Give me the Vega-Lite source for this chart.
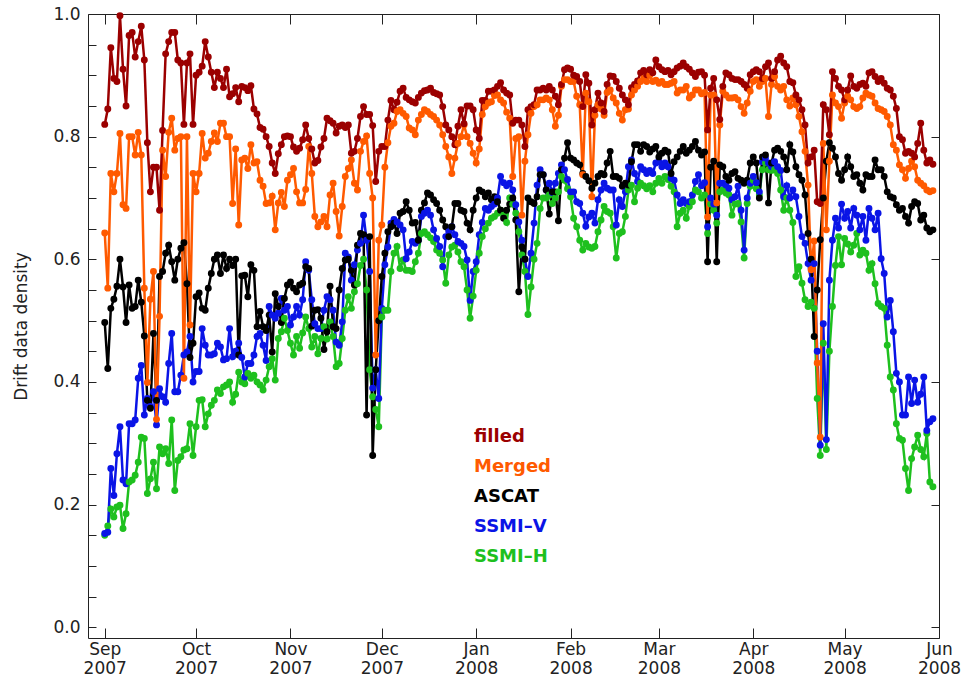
{
"$schema":"https://vega.github.io/schema/vega-lite/v6.json",
"width":851,"height":624,
"autosize":{"type":"none"},
"padding":{"left":88,"top":14,"right":31,"bottom":49},
"background":"white",
"config":{"font":"DejaVu Sans","view":{"stroke":null}},
"layer":[
{
"data":{"values":[
{"d":"2007-09-01","f":0.82,"m":0.643,"a":0.497,"v":0.153,"h":0.15},
{"d":"2007-09-02","f":0.845,"m":0.553,"a":0.422,"v":0.155,"h":0.165},
{"d":"2007-09-03","f":0.945,"m":0.74,"a":0.52,"v":0.259,"h":0.193},
{"d":"2007-09-04","f":0.895,"m":0.71,"a":0.535,"v":0.215,"h":0.18},
{"d":"2007-09-05","f":0.89,"m":0.74,"a":0.556,"v":0.283,"h":0.196},
{"d":"2007-09-06","f":0.997,"m":0.805,"a":0.6,"v":0.327,"h":0.199},
{"d":"2007-09-07","f":0.91,"m":0.689,"a":0.555,"v":0.24,"h":0.161},
{"d":"2007-09-08","f":0.85,"m":0.683,"a":0.497,"v":0.234,"h":0.185},
{"d":"2007-09-09","f":0.965,"m":0.8,"a":0.558,"v":0.332,"h":0.237},
{"d":"2007-09-10","f":0.97,"m":0.8,"a":0.52,"v":0.332,"h":0.24},
{"d":"2007-09-11","f":0.93,"m":0.77,"a":0.523,"v":0.338,"h":0.248},
{"d":"2007-09-12","f":0.955,"m":0.807,"a":0.566,"v":0.406,"h":0.269},
{"d":"2007-09-13","f":0.98,"m":0.77,"a":0.53,"v":0.427,"h":0.31},
{"d":"2007-09-14","f":0.925,"m":0.553,"a":0.475,"v":0.346,"h":0.308},
{"d":"2007-09-15","f":0.79,"m":0.399,"a":0.37,"v":0.373,"h":0.218},
{"d":"2007-09-16","f":0.71,"m":0.535,"a":0.357,"v":0.36,"h":0.242},
{"d":"2007-09-17","f":0.75,"m":0.58,"a":0.479,"v":0.384,"h":0.269},
{"d":"2007-09-18","f":0.75,"m":0.339,"a":0.37,"v":0.33,"h":0.226},
{"d":"2007-09-19","f":0.68,"m":0.507,"a":0.572,"v":0.389,"h":0.294},
{"d":"2007-09-20","f":0.81,"m":0.778,"a":0.58,"v":0.376,"h":0.283},
{"d":"2007-09-21","f":0.935,"m":0.735,"a":0.61,"v":0.367,"h":0.291},
{"d":"2007-09-22","f":0.955,"m":0.807,"a":0.623,"v":0.43,"h":0.267},
{"d":"2007-09-23","f":0.97,"m":0.83,"a":0.596,"v":0.479,"h":0.338},
{"d":"2007-09-24","f":0.97,"m":0.778,"a":0.566,"v":0.384,"h":0.223},
{"d":"2007-09-25","f":0.925,"m":0.797,"a":0.6,"v":0.384,"h":0.272},
{"d":"2007-09-26","f":0.92,"m":0.8,"a":0.618,"v":0.411,"h":0.278},
{"d":"2007-09-27","f":0.82,"m":0.406,"a":0.627,"v":0.444,"h":0.289},
{"d":"2007-09-28","f":0.92,"m":0.8,"a":0.56,"v":0.449,"h":0.291},
{"d":"2007-09-29","f":0.935,"m":0.493,"a":0.44,"v":0.474,"h":0.332},
{"d":"2007-09-30","f":0.82,"m":0.74,"a":0.463,"v":0.4,"h":0.28},
{"d":"2007-10-01","f":0.9,"m":0.71,"a":0.539,"v":0.417,"h":0.327},
{"d":"2007-10-02","f":0.905,"m":0.74,"a":0.545,"v":0.417,"h":0.37},
{"d":"2007-10-03","f":0.915,"m":0.805,"a":0.52,"v":0.487,"h":0.371},
{"d":"2007-10-04","f":0.955,"m":0.765,"a":0.517,"v":0.46,"h":0.327},
{"d":"2007-10-05","f":0.93,"m":0.773,"a":0.553,"v":0.444,"h":0.348},
{"d":"2007-10-06","f":0.905,"m":0.792,"a":0.577,"v":0.444,"h":0.362},
{"d":"2007-10-07","f":0.88,"m":0.806,"a":0.6,"v":0.446,"h":0.37},
{"d":"2007-10-08","f":0.905,"m":0.792,"a":0.607,"v":0.463,"h":0.387},
{"d":"2007-10-09","f":0.895,"m":0.822,"a":0.577,"v":0.457,"h":0.381},
{"d":"2007-10-10","f":0.88,"m":0.822,"a":0.607,"v":0.436,"h":0.392},
{"d":"2007-10-11","f":0.91,"m":0.8,"a":0.585,"v":0.438,"h":0.395},
{"d":"2007-10-12","f":0.865,"m":0.8,"a":0.6,"v":0.487,"h":0.4},
{"d":"2007-10-13","f":0.87,"m":0.691,"a":0.59,"v":0.441,"h":0.367},
{"d":"2007-10-14","f":0.88,"m":0.78,"a":0.6,"v":0.45,"h":0.38},
{"d":"2007-10-15","f":0.857,"m":0.656,"a":0.444,"v":0.463,"h":0.416},
{"d":"2007-10-16","f":0.882,"m":0.762,"a":0.573,"v":0.44,"h":0.4},
{"d":"2007-10-17","f":0.88,"m":0.765,"a":0.574,"v":0.408,"h":0.397},
{"d":"2007-10-18","f":0.875,"m":0.748,"a":0.539,"v":0.43,"h":0.414},
{"d":"2007-10-19","f":0.883,"m":0.787,"a":0.591,"v":0.43,"h":0.406},
{"d":"2007-10-20","f":0.845,"m":0.757,"a":0.582,"v":0.444,"h":0.411},
{"d":"2007-10-21","f":0.837,"m":0.759,"a":0.49,"v":0.474,"h":0.4},
{"d":"2007-10-22","f":0.815,"m":0.729,"a":0.515,"v":0.479,"h":0.395},
{"d":"2007-10-23","f":0.812,"m":0.719,"a":0.49,"v":0.46,"h":0.387},
{"d":"2007-10-24","f":0.8,"m":0.691,"a":0.484,"v":0.435,"h":0.403},
{"d":"2007-10-25","f":0.784,"m":0.692,"a":0.509,"v":0.523,"h":0.425},
{"d":"2007-10-26","f":0.757,"m":0.703,"a":0.449,"v":0.509,"h":0.438},
{"d":"2007-10-27","f":0.74,"m":0.648,"a":0.544,"v":0.504,"h":0.403},
{"d":"2007-10-28","f":0.772,"m":0.692,"a":0.523,"v":0.512,"h":0.471},
{"d":"2007-10-29","f":0.787,"m":0.709,"a":0.497,"v":0.536,"h":0.482},
{"d":"2007-10-30","f":0.8,"m":0.686,"a":0.536,"v":0.517,"h":0.504},
{"d":"2007-10-31","f":0.801,"m":0.729,"a":0.558,"v":0.523,"h":0.484},
{"d":"2007-11-01","f":0.8,"m":0.738,"a":0.563,"v":0.493,"h":0.463},
{"d":"2007-11-02","f":0.783,"m":0.748,"a":0.553,"v":0.506,"h":0.444},
{"d":"2007-11-03","f":0.776,"m":0.71,"a":0.547,"v":0.523,"h":0.474},
{"d":"2007-11-04","f":0.781,"m":0.692,"a":0.558,"v":0.509,"h":0.455},
{"d":"2007-11-05","f":0.795,"m":0.692,"a":0.561,"v":0.534,"h":0.48},
{"d":"2007-11-06","f":0.819,"m":0.714,"a":0.588,"v":0.596,"h":0.506},
{"d":"2007-11-07","f":0.797,"m":0.784,"a":0.585,"v":0.582,"h":0.487},
{"d":"2007-11-08","f":0.78,"m":0.74,"a":0.491,"v":0.534,"h":0.457},
{"d":"2007-11-09","f":0.757,"m":0.67,"a":0.517,"v":0.495,"h":0.474},
{"d":"2007-11-10","f":0.761,"m":0.653,"a":0.518,"v":0.487,"h":0.446},
{"d":"2007-11-11","f":0.783,"m":0.661,"a":0.504,"v":0.487,"h":0.471},
{"d":"2007-11-12","f":0.797,"m":0.67,"a":0.453,"v":0.517,"h":0.49},
{"d":"2007-11-13","f":0.83,"m":0.653,"a":0.482,"v":0.539,"h":0.47},
{"d":"2007-11-14","f":0.826,"m":0.705,"a":0.556,"v":0.534,"h":0.498},
{"d":"2007-11-15","f":0.822,"m":0.724,"a":0.49,"v":0.517,"h":0.474},
{"d":"2007-11-16","f":0.806,"m":0.678,"a":0.487,"v":0.465,"h":0.425},
{"d":"2007-11-17","f":0.817,"m":0.638,"a":0.55,"v":0.46,"h":0.43},
{"d":"2007-11-18","f":0.819,"m":0.686,"a":0.585,"v":0.498,"h":0.471},
{"d":"2007-11-19","f":0.815,"m":0.735,"a":0.599,"v":0.61,"h":0.517},
{"d":"2007-11-20","f":0.819,"m":0.748,"a":0.6,"v":0.604,"h":0.539},
{"d":"2007-11-21","f":0.773,"m":0.762,"a":0.582,"v":0.566,"h":0.52},
{"d":"2007-11-22","f":0.776,"m":0.724,"a":0.558,"v":0.591,"h":0.547},
{"d":"2007-11-23","f":0.797,"m":0.713,"a":0.623,"v":0.615,"h":0.56},
{"d":"2007-11-24","f":0.833,"m":0.776,"a":0.642,"v":0.626,"h":0.59},
{"d":"2007-11-25","f":0.849,"m":0.792,"a":0.64,"v":0.672,"h":0.6},
{"d":"2007-11-26","f":0.836,"m":0.801,"a":0.346,"v":0.631,"h":0.55},
{"d":"2007-11-27","f":0.836,"m":0.74,"a":0.637,"v":0.58,"h":0.42},
{"d":"2007-11-28","f":0.818,"m":0.7,"a":0.28,"v":0.39,"h":0.376},
{"d":"2007-11-29","f":0.727,"m":0.444,"a":0.42,"v":0.42,"h":0.355},
{"d":"2007-11-30","f":0.776,"m":0.631,"a":0.5,"v":0.373,"h":0.327},
{"d":"2007-12-01","f":0.784,"m":0.656,"a":0.572,"v":0.52,"h":0.506},
{"d":"2007-12-02","f":0.784,"m":0.75,"a":0.61,"v":0.591,"h":0.517},
{"d":"2007-12-03","f":0.827,"m":0.79,"a":0.645,"v":0.62,"h":0.517},
{"d":"2007-12-04","f":0.859,"m":0.817,"a":0.653,"v":0.659,"h":0.58},
{"d":"2007-12-05","f":0.844,"m":0.822,"a":0.659,"v":0.665,"h":0.61},
{"d":"2007-12-06","f":0.856,"m":0.841,"a":0.642,"v":0.661,"h":0.621},
{"d":"2007-12-07","f":0.874,"m":0.844,"a":0.675,"v":0.656,"h":0.585},
{"d":"2007-12-08","f":0.879,"m":0.838,"a":0.678,"v":0.648,"h":0.599},
{"d":"2007-12-09","f":0.864,"m":0.833,"a":0.694,"v":0.601,"h":0.582},
{"d":"2007-12-10","f":0.86,"m":0.814,"a":0.68,"v":0.612,"h":0.582},
{"d":"2007-12-11","f":0.857,"m":0.811,"a":0.659,"v":0.629,"h":0.58},
{"d":"2007-12-12","f":0.855,"m":0.803,"a":0.66,"v":0.626,"h":0.596},
{"d":"2007-12-13","f":0.864,"m":0.827,"a":0.631,"v":0.631,"h":0.61},
{"d":"2007-12-14","f":0.871,"m":0.836,"a":0.68,"v":0.67,"h":0.642},
{"d":"2007-12-15","f":0.875,"m":0.844,"a":0.692,"v":0.675,"h":0.645},
{"d":"2007-12-16","f":0.876,"m":0.841,"a":0.708,"v":0.68,"h":0.64},
{"d":"2007-12-17","f":0.879,"m":0.836,"a":0.705,"v":0.672,"h":0.635},
{"d":"2007-12-18","f":0.872,"m":0.833,"a":0.697,"v":0.648,"h":0.629},
{"d":"2007-12-19","f":0.87,"m":0.827,"a":0.691,"v":0.634,"h":0.615},
{"d":"2007-12-20","f":0.868,"m":0.819,"a":0.68,"v":0.621,"h":0.61},
{"d":"2007-12-21","f":0.849,"m":0.803,"a":0.664,"v":0.588,"h":0.599},
{"d":"2007-12-22","f":0.819,"m":0.784,"a":0.653,"v":0.637,"h":0.561},
{"d":"2007-12-23","f":0.811,"m":0.767,"a":0.637,"v":0.645,"h":0.607},
{"d":"2007-12-24","f":0.8,"m":0.74,"a":0.653,"v":0.653,"h":0.62},
{"d":"2007-12-25","f":0.787,"m":0.765,"a":0.691,"v":0.64,"h":0.623},
{"d":"2007-12-26","f":0.817,"m":0.789,"a":0.691,"v":0.629,"h":0.612},
{"d":"2007-12-27","f":0.844,"m":0.8,"a":0.68,"v":0.626,"h":0.596},
{"d":"2007-12-28","f":0.821,"m":0.819,"a":0.678,"v":0.621,"h":0.588},
{"d":"2007-12-29","f":0.85,"m":0.8,"a":0.659,"v":0.599,"h":0.55},
{"d":"2007-12-30","f":0.85,"m":0.789,"a":0.648,"v":0.533,"h":0.504},
{"d":"2007-12-31","f":0.844,"m":0.773,"a":0.68,"v":0.58,"h":0.54},
{"d":"2008-01-01","f":0.811,"m":0.757,"a":0.7,"v":0.596,"h":0.582},
{"d":"2008-01-02","f":0.797,"m":0.78,"a":0.713,"v":0.64,"h":0.61},
{"d":"2008-01-03","f":0.859,"m":0.836,"a":0.71,"v":0.66,"h":0.637},
{"d":"2008-01-04","f":0.859,"m":0.849,"a":0.702,"v":0.683,"h":0.65},
{"d":"2008-01-05","f":0.874,"m":0.855,"a":0.708,"v":0.68,"h":0.659},
{"d":"2008-01-06","f":0.874,"m":0.857,"a":0.697,"v":0.686,"h":0.667},
{"d":"2008-01-07","f":0.876,"m":0.867,"a":0.702,"v":0.69,"h":0.67},
{"d":"2008-01-08","f":0.882,"m":0.868,"a":0.694,"v":0.7,"h":0.675},
{"d":"2008-01-09","f":0.888,"m":0.86,"a":0.68,"v":0.735,"h":0.68},
{"d":"2008-01-10","f":0.876,"m":0.855,"a":0.667,"v":0.725,"h":0.672},
{"d":"2008-01-11","f":0.871,"m":0.84,"a":0.68,"v":0.72,"h":0.66},
{"d":"2008-01-12","f":0.868,"m":0.83,"a":0.69,"v":0.724,"h":0.7},
{"d":"2008-01-13","f":0.822,"m":0.735,"a":0.7,"v":0.713,"h":0.69},
{"d":"2008-01-14","f":0.827,"m":0.797,"a":0.664,"v":0.689,"h":0.675},
{"d":"2008-01-15","f":0.827,"m":0.8,"a":0.547,"v":0.661,"h":0.645},
{"d":"2008-01-16","f":0.819,"m":0.672,"a":0.62,"v":0.631,"h":0.607},
{"d":"2008-01-17","f":0.784,"m":0.76,"a":0.6,"v":0.6,"h":0.58},
{"d":"2008-01-18","f":0.844,"m":0.803,"a":0.7,"v":0.572,"h":0.51},
{"d":"2008-01-19","f":0.849,"m":0.838,"a":0.694,"v":0.61,"h":0.555},
{"d":"2008-01-20","f":0.852,"m":0.849,"a":0.691,"v":0.659,"h":0.6},
{"d":"2008-01-21","f":0.876,"m":0.852,"a":0.702,"v":0.721,"h":0.626},
{"d":"2008-01-22","f":0.876,"m":0.86,"a":0.738,"v":0.746,"h":0.683},
{"d":"2008-01-23","f":0.879,"m":0.86,"a":0.738,"v":0.738,"h":0.7},
{"d":"2008-01-24","f":0.876,"m":0.863,"a":0.713,"v":0.713,"h":0.7},
{"d":"2008-01-25","f":0.882,"m":0.86,"a":0.674,"v":0.724,"h":0.705},
{"d":"2008-01-26","f":0.876,"m":0.844,"a":0.71,"v":0.709,"h":0.691},
{"d":"2008-01-27","f":0.866,"m":0.817,"a":0.71,"v":0.724,"h":0.7},
{"d":"2008-01-28","f":0.852,"m":0.835,"a":0.663,"v":0.74,"h":0.71},
{"d":"2008-01-29","f":0.885,"m":0.882,"a":0.746,"v":0.754,"h":0.735},
{"d":"2008-01-30","f":0.909,"m":0.893,"a":0.765,"v":0.746,"h":0.729},
{"d":"2008-01-31","f":0.912,"m":0.893,"a":0.79,"v":0.73,"h":0.715},
{"d":"2008-02-01","f":0.91,"m":0.89,"a":0.765,"v":0.71,"h":0.702},
{"d":"2008-02-02","f":0.9,"m":0.89,"a":0.762,"v":0.71,"h":0.667},
{"d":"2008-02-03","f":0.898,"m":0.866,"a":0.757,"v":0.694,"h":0.653},
{"d":"2008-02-04","f":0.89,"m":0.852,"a":0.754,"v":0.691,"h":0.631},
{"d":"2008-02-05","f":0.849,"m":0.738,"a":0.74,"v":0.675,"h":0.615},
{"d":"2008-02-06","f":0.901,"m":0.871,"a":0.735,"v":0.654,"h":0.626},
{"d":"2008-02-07","f":0.887,"m":0.857,"a":0.728,"v":0.669,"h":0.62},
{"d":"2008-02-08","f":0.819,"m":0.702,"a":0.716,"v":0.675,"h":0.618},
{"d":"2008-02-09","f":0.844,"m":0.835,"a":0.724,"v":0.659,"h":0.621},
{"d":"2008-02-10","f":0.871,"m":0.852,"a":0.735,"v":0.697,"h":0.645},
{"d":"2008-02-11","f":0.855,"m":0.845,"a":0.74,"v":0.713,"h":0.664},
{"d":"2008-02-12","f":0.841,"m":0.835,"a":0.738,"v":0.724,"h":0.686},
{"d":"2008-02-13","f":0.885,"m":0.872,"a":0.757,"v":0.716,"h":0.678},
{"d":"2008-02-14","f":0.899,"m":0.876,"a":0.776,"v":0.713,"h":0.675},
{"d":"2008-02-15","f":0.898,"m":0.863,"a":0.735,"v":0.713,"h":0.653},
{"d":"2008-02-16","f":0.89,"m":0.855,"a":0.735,"v":0.656,"h":0.602},
{"d":"2008-02-17","f":0.879,"m":0.838,"a":0.732,"v":0.697,"h":0.642},
{"d":"2008-02-18","f":0.868,"m":0.827,"a":0.719,"v":0.686,"h":0.645},
{"d":"2008-02-19","f":0.86,"m":0.844,"a":0.724,"v":0.71,"h":0.67},
{"d":"2008-02-20","f":0.852,"m":0.845,"a":0.721,"v":0.751,"h":0.713},
{"d":"2008-02-21","f":0.88,"m":0.868,"a":0.759,"v":0.762,"h":0.721},
{"d":"2008-02-22","f":0.885,"m":0.876,"a":0.787,"v":0.74,"h":0.694},
{"d":"2008-02-23","f":0.891,"m":0.882,"a":0.787,"v":0.727,"h":0.716},
{"d":"2008-02-24","f":0.904,"m":0.89,"a":0.776,"v":0.751,"h":0.724},
{"d":"2008-02-25","f":0.908,"m":0.895,"a":0.787,"v":0.746,"h":0.72},
{"d":"2008-02-26","f":0.901,"m":0.89,"a":0.784,"v":0.74,"h":0.715},
{"d":"2008-02-27","f":0.909,"m":0.9,"a":0.775,"v":0.745,"h":0.72},
{"d":"2008-02-28","f":0.904,"m":0.89,"a":0.78,"v":0.74,"h":0.71},
{"d":"2008-02-29","f":0.925,"m":0.892,"a":0.784,"v":0.757,"h":0.724},
{"d":"2008-03-01","f":0.914,"m":0.887,"a":0.767,"v":0.759,"h":0.732},
{"d":"2008-03-02","f":0.909,"m":0.89,"a":0.773,"v":0.751,"h":0.724},
{"d":"2008-03-03","f":0.906,"m":0.885,"a":0.778,"v":0.757,"h":0.735},
{"d":"2008-03-04","f":0.908,"m":0.885,"a":0.775,"v":0.751,"h":0.73},
{"d":"2008-03-05","f":0.901,"m":0.887,"a":0.74,"v":0.732,"h":0.719},
{"d":"2008-03-06","f":0.906,"m":0.89,"a":0.759,"v":0.729,"h":0.71},
{"d":"2008-03-07","f":0.912,"m":0.871,"a":0.767,"v":0.705,"h":0.653},
{"d":"2008-03-08","f":0.915,"m":0.876,"a":0.776,"v":0.691,"h":0.675},
{"d":"2008-03-09","f":0.92,"m":0.876,"a":0.784,"v":0.697,"h":0.68},
{"d":"2008-03-10","f":0.914,"m":0.882,"a":0.773,"v":0.691,"h":0.667},
{"d":"2008-03-11","f":0.91,"m":0.863,"a":0.778,"v":0.694,"h":0.686},
{"d":"2008-03-12","f":0.904,"m":0.868,"a":0.784,"v":0.705,"h":0.694},
{"d":"2008-03-13","f":0.898,"m":0.876,"a":0.792,"v":0.727,"h":0.713},
{"d":"2008-03-14","f":0.905,"m":0.876,"a":0.778,"v":0.738,"h":0.71},
{"d":"2008-03-15","f":0.906,"m":0.87,"a":0.77,"v":0.72,"h":0.7},
{"d":"2008-03-16","f":0.9,"m":0.872,"a":0.775,"v":0.725,"h":0.705},
{"d":"2008-03-17","f":0.811,"m":0.669,"a":0.596,"v":0.653,"h":0.642},
{"d":"2008-03-18","f":0.879,"m":0.868,"a":0.75,"v":0.7,"h":0.69},
{"d":"2008-03-19","f":0.895,"m":0.868,"a":0.76,"v":0.69,"h":0.68},
{"d":"2008-03-20","f":0.86,"m":0.692,"a":0.596,"v":0.672,"h":0.659},
{"d":"2008-03-21","f":0.828,"m":0.819,"a":0.754,"v":0.724,"h":0.71},
{"d":"2008-03-22","f":0.882,"m":0.874,"a":0.751,"v":0.724,"h":0.713},
{"d":"2008-03-23","f":0.904,"m":0.868,"a":0.735,"v":0.721,"h":0.708},
{"d":"2008-03-24","f":0.901,"m":0.863,"a":0.729,"v":0.716,"h":0.705},
{"d":"2008-03-25","f":0.895,"m":0.863,"a":0.74,"v":0.697,"h":0.672},
{"d":"2008-03-26","f":0.893,"m":0.864,"a":0.743,"v":0.702,"h":0.69},
{"d":"2008-03-27","f":0.893,"m":0.86,"a":0.732,"v":0.719,"h":0.691},
{"d":"2008-03-28","f":0.89,"m":0.849,"a":0.729,"v":0.68,"h":0.661},
{"d":"2008-03-29","f":0.885,"m":0.838,"a":0.724,"v":0.615,"h":0.602},
{"d":"2008-03-30","f":0.879,"m":0.855,"a":0.729,"v":0.7,"h":0.691},
{"d":"2008-03-31","f":0.901,"m":0.874,"a":0.757,"v":0.724,"h":0.719},
{"d":"2008-04-01","f":0.906,"m":0.89,"a":0.767,"v":0.735,"h":0.729},
{"d":"2008-04-02","f":0.909,"m":0.893,"a":0.757,"v":0.725,"h":0.715},
{"d":"2008-04-03","f":0.906,"m":0.882,"a":0.7,"v":0.71,"h":0.705},
{"d":"2008-04-04","f":0.895,"m":0.89,"a":0.767,"v":0.759,"h":0.746},
{"d":"2008-04-05","f":0.914,"m":0.895,"a":0.77,"v":0.765,"h":0.757},
{"d":"2008-04-06","f":0.92,"m":0.833,"a":0.692,"v":0.757,"h":0.746},
{"d":"2008-04-07","f":0.895,"m":0.885,"a":0.757,"v":0.751,"h":0.745},
{"d":"2008-04-08","f":0.906,"m":0.898,"a":0.778,"v":0.759,"h":0.746},
{"d":"2008-04-09","f":0.925,"m":0.882,"a":0.781,"v":0.751,"h":0.74},
{"d":"2008-04-10","f":0.931,"m":0.876,"a":0.776,"v":0.745,"h":0.713},
{"d":"2008-04-11","f":0.92,"m":0.882,"a":0.767,"v":0.702,"h":0.68},
{"d":"2008-04-12","f":0.914,"m":0.86,"a":0.746,"v":0.72,"h":0.7},
{"d":"2008-04-13","f":0.89,"m":0.85,"a":0.787,"v":0.7,"h":0.68},
{"d":"2008-04-14","f":0.888,"m":0.863,"a":0.775,"v":0.713,"h":0.66},
{"d":"2008-04-15","f":0.868,"m":0.852,"a":0.751,"v":0.702,"h":0.572},
{"d":"2008-04-16","f":0.86,"m":0.833,"a":0.738,"v":0.67,"h":0.588},
{"d":"2008-04-17","f":0.844,"m":0.808,"a":0.729,"v":0.637,"h":0.561},
{"d":"2008-04-18","f":0.819,"m":0.776,"a":0.705,"v":0.626,"h":0.534},
{"d":"2008-04-19","f":0.757,"m":0.721,"a":0.642,"v":0.593,"h":0.523},
{"d":"2008-04-20","f":0.767,"m":0.583,"a":0.6,"v":0.566,"h":0.53},
{"d":"2008-04-21","f":0.778,"m":0.63,"a":0.474,"v":0.593,"h":0.52},
{"d":"2008-04-22","f":0.694,"m":0.431,"a":0.55,"v":0.45,"h":0.373},
{"d":"2008-04-23","f":0.691,"m":0.31,"a":0.632,"v":0.297,"h":0.28},
{"d":"2008-04-24","f":0.852,"m":0.789,"a":0.7,"v":0.495,"h":0.463},
{"d":"2008-04-25","f":0.844,"m":0.648,"a":0.76,"v":0.306,"h":0.29},
{"d":"2008-04-26","f":0.803,"m":0.76,"a":0.79,"v":0.566,"h":0.45},
{"d":"2008-04-27","f":0.906,"m":0.868,"a":0.781,"v":0.631,"h":0.523},
{"d":"2008-04-28","f":0.895,"m":0.855,"a":0.767,"v":0.667,"h":0.59},
{"d":"2008-04-29","f":0.882,"m":0.849,"a":0.74,"v":0.651,"h":0.637},
{"d":"2008-04-30","f":0.876,"m":0.83,"a":0.729,"v":0.69,"h":0.591},
{"d":"2008-05-01","f":0.86,"m":0.855,"a":0.746,"v":0.667,"h":0.634},
{"d":"2008-05-02","f":0.876,"m":0.866,"a":0.767,"v":0.678,"h":0.625},
{"d":"2008-05-03","f":0.899,"m":0.86,"a":0.751,"v":0.651,"h":0.612},
{"d":"2008-05-04","f":0.882,"m":0.849,"a":0.735,"v":0.683,"h":0.623},
{"d":"2008-05-05","f":0.879,"m":0.846,"a":0.738,"v":0.672,"h":0.642},
{"d":"2008-05-06","f":0.885,"m":0.849,"a":0.724,"v":0.648,"h":0.607},
{"d":"2008-05-07","f":0.887,"m":0.863,"a":0.713,"v":0.67,"h":0.615},
{"d":"2008-05-08","f":0.882,"m":0.871,"a":0.738,"v":0.631,"h":0.61},
{"d":"2008-05-09","f":0.904,"m":0.868,"a":0.735,"v":0.683,"h":0.582},
{"d":"2008-05-10","f":0.906,"m":0.866,"a":0.735,"v":0.667,"h":0.593},
{"d":"2008-05-11","f":0.898,"m":0.855,"a":0.762,"v":0.648,"h":0.56},
{"d":"2008-05-12","f":0.89,"m":0.846,"a":0.746,"v":0.675,"h":0.528},
{"d":"2008-05-13","f":0.895,"m":0.844,"a":0.746,"v":0.601,"h":0.523},
{"d":"2008-05-14","f":0.887,"m":0.841,"a":0.735,"v":0.577,"h":0.52},
{"d":"2008-05-15","f":0.879,"m":0.833,"a":0.71,"v":0.506,"h":0.46},
{"d":"2008-05-16","f":0.876,"m":0.819,"a":0.702,"v":0.533,"h":0.408},
{"d":"2008-05-17","f":0.866,"m":0.787,"a":0.7,"v":0.482,"h":0.387},
{"d":"2008-05-18","f":0.846,"m":0.778,"a":0.689,"v":0.414,"h":0.332},
{"d":"2008-05-19","f":0.8,"m":0.754,"a":0.68,"v":0.4,"h":0.308},
{"d":"2008-05-20","f":0.795,"m":0.746,"a":0.683,"v":0.346,"h":0.305},
{"d":"2008-05-21","f":0.773,"m":0.732,"a":0.67,"v":0.346,"h":0.259},
{"d":"2008-05-22","f":0.776,"m":0.748,"a":0.659,"v":0.408,"h":0.223},
{"d":"2008-05-23","f":0.773,"m":0.76,"a":0.686,"v":0.365,"h":0.275},
{"d":"2008-05-24","f":0.767,"m":0.751,"a":0.694,"v":0.403,"h":0.294},
{"d":"2008-05-25","f":0.789,"m":0.729,"a":0.691,"v":0.367,"h":0.313},
{"d":"2008-05-26","f":0.822,"m":0.724,"a":0.664,"v":0.38,"h":0.29},
{"d":"2008-05-27","f":0.778,"m":0.72,"a":0.672,"v":0.408,"h":0.278},
{"d":"2008-05-28","f":0.757,"m":0.713,"a":0.651,"v":0.321,"h":0.316},
{"d":"2008-05-29","f":0.762,"m":0.71,"a":0.645,"v":0.335,"h":0.237},
{"d":"2008-05-30","f":0.755,"m":0.712,"a":0.648,"v":0.34,"h":0.229}
]},
"transform":[{"fold":["h","v","a","m","f"],"as":["s","val"]}],
"mark":{"type":"line","strokeWidth":2.5,"point":{"filled":true,"size":48}},
"encoding":{
"x":{"field":"d","type":"temporal",
"scale":{"type":"utc","domain":[{"year":2007,"month":8,"date":26,"hours":12,"utc":true},{"year":2008,"month":6,"date":1,"utc":true}]},
"axis":{"orient":"bottom","title":null,"grid":false,
"values":[{"year":2007,"month":9,"date":1,"utc":true},{"year":2007,"month":10,"date":1,"utc":true},{"year":2007,"month":11,"date":1,"utc":true},{"year":2007,"month":12,"date":1,"utc":true},{"year":2008,"month":1,"date":1,"utc":true},{"year":2008,"month":2,"date":1,"utc":true},{"year":2008,"month":3,"date":1,"utc":true},{"year":2008,"month":4,"date":1,"utc":true},{"year":2008,"month":5,"date":1,"utc":true},{"year":2008,"month":6,"date":1,"utc":true}],
"labelExpr":"[utcFormat(datum.value,'%b'), utcFormat(datum.value,'%Y')]",
"tickSize":-10,"labelPadding":13,"labelFontSize":17,"labelColor":"#222222","labelLineHeight":19,"labelBaseline":"top","labelFlush":false,"labelOverlap":false,
"domainColor":"#222222","tickColor":"#222222"}},
"y":{"field":"val","type":"quantitative",
"scale":{"domain":[-0.0175,1],"nice":false,"zero":false},
"axis":{"orient":"left","grid":false,
"values":[0,0.05,0.1,0.15,0.2,0.25,0.3,0.35,0.4,0.45,0.5,0.55,0.6,0.65,0.7,0.75,0.8,0.85,0.9,0.95,1],
"labelExpr":"round(datum.value*20)%4==0 ? format(datum.value,'.1f') : ''",
"tickSize":-8,"labelPadding":16,"labelFontSize":17,"labelColor":"#222222","labelOverlap":false,"labelFlush":false,
"title":"Drift data density","titleFontSize":17,"titleFontWeight":"normal","titleColor":"#222222","titlePadding":22,
"domainColor":"#222222","tickColor":"#222222"}},
"color":{"field":"s","type":"nominal",
"scale":{"domain":["f","m","a","v","h"],"range":["#9b0000","#ff5a00","#000000","#0a14e6","#1ec01e"]},
"legend":{"orient":"none","legendX":368,"legendY":414,"title":null,"padding":0,
"labelExpr":"{'f':'filled','m':'Merged','a':'ASCAT','v':'SSMI\u2013V','h':'SSMI\u2013H'}[datum.value]",
"labelFont":"DejaVu Sans","labelFontSize":18,"labelFontWeight":"bold",
"labelColor":{"expr":"scale('color', datum.value)"},
"symbolSize":0,"symbolOpacity":0,"symbolStrokeWidth":0,"labelOffset":0,"rowPadding":12}}
}
},
{
"data":{"values":[{}]},
"mark":{"type":"point","opacity":0},
"encoding":{
"x":{"datum":{"year":2008,"month":1,"date":1,"utc":true},"type":"temporal",
"axis":{"orient":"top","title":null,"grid":false,"labels":false,
"values":[{"year":2007,"month":9,"date":1,"utc":true},{"year":2007,"month":10,"date":1,"utc":true},{"year":2007,"month":11,"date":1,"utc":true},{"year":2007,"month":12,"date":1,"utc":true},{"year":2008,"month":1,"date":1,"utc":true},{"year":2008,"month":2,"date":1,"utc":true},{"year":2008,"month":3,"date":1,"utc":true},{"year":2008,"month":4,"date":1,"utc":true},{"year":2008,"month":5,"date":1,"utc":true},{"year":2008,"month":6,"date":1,"utc":true}],
"tickSize":-10,"domainColor":"#222222","tickColor":"#222222"}},
"y":{"datum":0.5,"type":"quantitative",
"axis":{"orient":"right","title":null,"grid":false,"labels":false,"values":[0,0.2,0.4,0.6,0.8,1],
"tickSize":-8,"domainColor":"#222222","tickColor":"#222222"}}
}
}
],
"resolve":{"axis":{"x":"independent","y":"independent"}}
}
